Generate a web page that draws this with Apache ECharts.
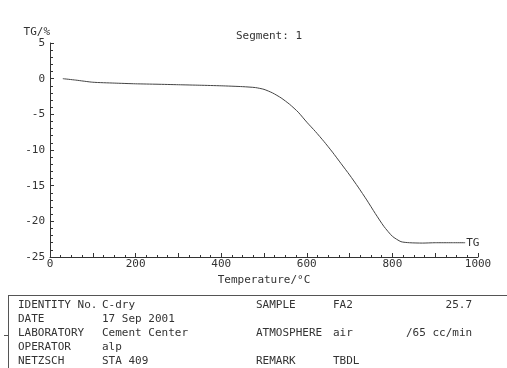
<!DOCTYPE html>
<html><head><meta charset="utf-8">
<script src="https://cdn.jsdelivr.net/npm/echarts@6/dist/echarts.min.js"></script>
<style>html,body{margin:0;padding:0;background:#fff}#c{width:507px;height:368px}</style>
</head><body><div id="c"></div>
<script>
// Data
const temperature = [30, 60, 100, 150, 200, 250, 300, 350, 400, 450, 480, 500, 520, 540, 560, 580, 600, 620, 640, 660, 680, 700, 720, 740, 760, 780, 800, 820, 840, 870, 900, 940, 970];
const tgPercent  = [0.0, -0.2, -0.5, -0.62, -0.72, -0.78, -0.85, -0.92, -1.0, -1.12, -1.25, -1.5, -2.0, -2.7, -3.6, -4.7, -6.1, -7.4, -8.8, -10.3, -11.9, -13.5, -15.2, -17.0, -18.9, -20.7, -22.1, -22.85, -23.0, -23.05, -23.0, -23.0, -23.0];
const xLabels = [0, 200, 400, 600, 800, 1000];
const yLabels = [5, 0, -5, -10, -15, -20, -25];

const col1Labels = ['IDENTITY No.', 'DATE', 'LABORATORY', 'OPERATOR', 'NETZSCH'];
const col1Values = ['C-dry', '17 Sep 2001', 'Cement Center', 'alp', 'STA 409'];
const col2Labels = ['SAMPLE', '', 'ATMOSPHERE', '', 'REMARK'];
const col2Values = ['FA2', '', 'air', '', 'TBDL'];
const col3Values = ['25.7', '', '/65 cc/min', '', ''];

const FONT = '"DejaVu Sans Mono", monospace';
const TXT = '#333';
const rowY = [305, 319, 333, 347, 361];

const graphic = [];
graphic.push({type:'line', shape:{x1:8, y1:295.5, x2:507, y2:295.5}, style:{stroke:'#555', lineWidth:1}});
graphic.push({type:'line', shape:{x1:8.5, y1:295, x2:8.5, y2:368}, style:{stroke:'#555', lineWidth:1}});
graphic.push({type:'line', shape:{x1:4, y1:rowY[2]+2.5, x2:8, y2:rowY[2]+2.5}, style:{stroke:'#555', lineWidth:1}});
function addText(t, x, y, align) {
  if (!t) return;
  graphic.push({type:'text', x:x, y:y, style:{text:t, font:'11px ' + FONT, fill:TXT, align:align||'left', verticalAlign:'middle'}});
}
for (let i = 0; i < 5; i++) {
  addText(col1Labels[i], 18, rowY[i]);
  addText(col1Values[i], 102, rowY[i]);
  addText(col2Labels[i], 256, rowY[i]);
  addText(col2Values[i], 333, rowY[i]);
}
addText(col3Values[0], 472, rowY[0], 'right');
addText(col3Values[2], 406, rowY[2]);

const chart = echarts.init(document.getElementById('c'), null, {renderer:'canvas'});
chart.setOption({
  animation: false,
  backgroundColor: '#fff',
  title: {text:'Segment: 1', left:264, top:26, textAlign:'center',
          textStyle:{fontFamily:FONT, fontSize:11, fontWeight:'normal', color:TXT}},
  grid: {left:50, right:29, top:43, bottom:111, containLabel:false},
  xAxis: {
    type:'value', min:0, max:1000, interval:100,
    name:'Temperature/°C', nameLocation:'middle', nameGap:14,
    nameTextStyle:{fontFamily:FONT, fontSize:11, color:TXT},
    axisLine:{show:true, onZero:false, lineStyle:{color:'#333', width:1}},
    axisTick:{show:true, inside:true, length:4, lineStyle:{color:'#333'}},
    minorTick:{show:true, splitNumber:4, length:2, lineStyle:{color:'#333'}},
    splitLine:{show:false},
    axisLabel:{margin:2, fontFamily:FONT, fontSize:11, color:TXT,
               formatter: v => xLabels.indexOf(v) >= 0 ? String(v) : ''}
  },
  yAxis: {
    type:'value', min:-25, max:5, interval:5,
    name:'TG/%', nameLocation:'end', nameGap:3,
    nameTextStyle:{fontFamily:FONT, fontSize:11, color:TXT, align:'right'},
    axisLine:{show:true, onZero:false, lineStyle:{color:'#333', width:1}},
    axisTick:{show:true, inside:true, length:4, lineStyle:{color:'#333'}},
    minorTick:{show:true, splitNumber:5, length:3, lineStyle:{color:'#333'}},
    splitLine:{show:false},
    axisLabel:{margin:5, fontFamily:FONT, fontSize:11, color:TXT,
               formatter: v => yLabels.indexOf(v) >= 0 ? String(v) : ''}
  },
  series: [{
    type:'line', data: temperature.map((t, i) => [t, tgPercent[i]]),
    showSymbol:false, smooth:0.2,
    lineStyle:{color:'#444', width:1},
    endLabel:{show:true, formatter:'TG', distance:1, fontFamily:FONT, fontSize:11, color:TXT}
  }],
  graphic: graphic
});
</script></body></html>
